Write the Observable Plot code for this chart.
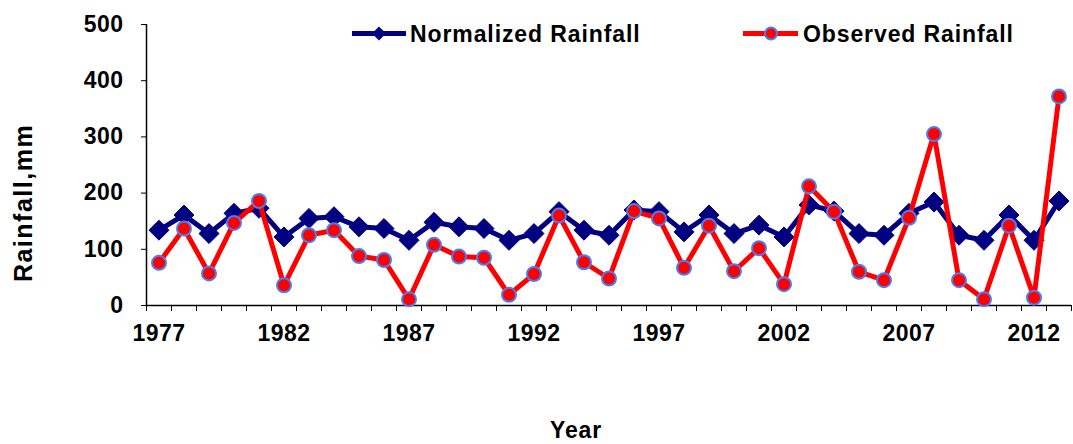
<!DOCTYPE html>
<html><head><meta charset="utf-8">
<script src="https://cdn.jsdelivr.net/npm/d3@7"></script>
<script src="https://cdn.jsdelivr.net/npm/@observablehq/plot@0.6"></script>
<style>
body{margin:0;background:#fff;}
svg{font-family:"Liberation Sans",Arial,sans-serif;}
</style>
</head><body>
<div id="chart"></div>
<script>
const years = d3.range(1977, 2014);
const normalized = [134,161,128,164,173,122,155,158,140,137,116,148,140,137,116,128,167,134,125,170,167,131,161,128,143,122,179,168,128,125,164,184,125,116,161,116,186];
const observed = [76,137,57,147,186,36,125,134,88,81,11,108,87,85,19,56,160,77,48,168,155,67,142,61,102,38,212,167,60,45,156,305,45,11,142,14,372];
const yTicks = [0,100,200,300,400,500];
const xLabelYears = [1977,1982,1987,1992,1997,2002,2007,2012];
const seriesNames = ["Normalized Rainfall","Observed Rainfall"];

const normData = years.map((y,i)=>({year:y, value:normalized[i]}));
const obsData = years.map((y,i)=>({year:y, value:observed[i]}));
const xTickBounds = d3.range(1976.5, 2014, 1);

const navy = "#000080", red = "#ff0000", ring = "#4a7cf2";

const chart = Plot.plot({
  width: 1073, height: 444,
  marginLeft: 146, marginRight: 2, marginTop: 24, marginBottom: 139,
  style: {fontFamily: "Liberation Sans, Arial, sans-serif", background: "#fff"},
  x: {domain: [1976.5, 2013.5], axis: null},
  y: {domain: [0, 500], axis: null},
  marks: [
    Plot.axisY({ticks: yTicks, tickSize: 5, tickPadding: 18, fontSize: 23, fontWeight: "bold", stroke: "#000", label: null}),
    Plot.axisX({ticks: xTickBounds, tickSize: 6, tickFormat: () => "", stroke: "#000", label: null}),
    Plot.axisX({ticks: xLabelYears, tickSize: 0, tickPadding: 19, tickFormat: d3.format("d"), fontSize: 23, fontWeight: "bold", label: null}),
    Plot.ruleY([0], {stroke: "#000", strokeWidth: 1.5}),
    Plot.ruleX([1976.5], {stroke: "#000", strokeWidth: 1.5}),
    Plot.line(normData, {x: "year", y: "value", stroke: navy, strokeWidth: 5}),
    Plot.dot(normData, {x: "year", y: "value", symbol: "diamond2", r: 9, fill: navy, stroke: navy, strokeWidth: 1}),
    Plot.line(obsData, {x: "year", y: "value", stroke: red, strokeWidth: 5}),
    Plot.dot(obsData, {x: "year", y: "value", r: 7, fill: red, stroke: ring, strokeWidth: 2})
  ]
});

const svg = d3.select(chart);
svg.selectAll("g[aria-label='y-axis tick label'] text, g[aria-label='x-axis tick label'] text").style("letter-spacing","0.5px");

// Axis titles
svg.append("text").attr("transform","translate(32,203) rotate(-90)")
  .attr("text-anchor","middle").attr("font-size",25).attr("font-weight","bold").style("letter-spacing","1.5px").text("Rainfall,mm");
svg.append("text").attr("x",576).attr("y",438)
  .attr("text-anchor","middle").attr("font-size",23).attr("font-weight","bold").style("letter-spacing","0.8px").text("Year");

// Legend
const lg = svg.append("g").attr("text-anchor","start");
const l1 = lg.append("g");
l1.append("line").attr("x1",352).attr("x2",406).attr("y1",33.5).attr("y2",33.5).attr("stroke",navy).attr("stroke-width",5);
l1.append("path").attr("d", d3.symbol(d3.symbolDiamond2, 125)()).attr("transform","translate(379,33.5)").attr("fill",navy);
l1.append("text").attr("x",410).attr("y",42).attr("font-size",23).attr("font-weight","bold").style("letter-spacing","0.9px").text(seriesNames[0]);
const l2 = lg.append("g");
l2.append("line").attr("x1",743).attr("x2",798).attr("y1",33.5).attr("y2",33.5).attr("stroke",red).attr("stroke-width",5);
l2.append("circle").attr("cx",771).attr("cy",33.5).attr("r",6).attr("fill",red).attr("stroke",ring).attr("stroke-width",2);
l2.append("text").attr("x",803).attr("y",42).attr("font-size",23).attr("font-weight","bold").style("letter-spacing","0.9px").text(seriesNames[1]);

document.getElementById("chart").appendChild(chart);
</script>
</body></html>
